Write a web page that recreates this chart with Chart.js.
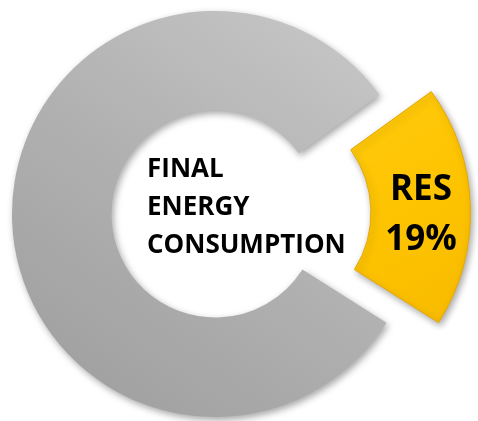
<!DOCTYPE html>
<html>
<head>
<meta charset="utf-8">
<script src="https://cdn.jsdelivr.net/npm/chart.js@4"></script>
<style>
  html, body { margin: 0; padding: 0; background: #ffffff; }
  #wrap { width: 478px; height: 421px; position: relative; }
</style>
</head>
<body>
<div id="wrap"><canvas id="c" width="478" height="421"></canvas></div>
<script>
// ---- data ----
const categories = ['RES', 'Other'];
const shares = [19, 81];
const centerLines = ['FINAL', 'ENERGY', 'CONSUMPTION'];
const sliceLabel = ['RES', '19%'];

// ---- styling ----
function sliceFill(ctx) {
  const chart = ctx.chart;
  const a = chart.chartArea;
  const isRes = ctx.dataIndex === 0;
  if (!a) return isRes ? '#fcc200' : '#b4b4b4';
  if (isRes) {
    const g = chart.ctx.createLinearGradient(a.right - 150, a.top + 60, a.right + 40, a.bottom - 60);
    g.addColorStop(0, '#ffcc10');
    g.addColorStop(0.5, '#fdc300');
    g.addColorStop(1, '#f5b600');
    return g;
  }
  const g = chart.ctx.createLinearGradient(a.left + a.width * 0.85, a.top, a.left + a.width * 0.15, a.bottom);
  g.addColorStop(0, '#c8c8c8');
  g.addColorStop(0.5, '#b1b1b1');
  g.addColorStop(1, '#9e9e9e');
  return g;
}

const shadowPlugin = {
  id: 'shadow',
  beforeDatasetsDraw(chart) {
    const c = chart.ctx;
    c.save();
    c.shadowColor = 'rgba(0,0,0,0.35)';
    c.shadowBlur = 7;
    c.shadowOffsetX = 2;
    c.shadowOffsetY = 3;
  },
  afterDatasetsDraw(chart) {
    chart.ctx.restore();
  }
};

const textPlugin = {
  id: 'texts',
  afterDraw(chart) {
    const c = chart.ctx;
    const arc = chart.getDatasetMeta(0).data[1];
    const cx = arc.x, cy = arc.y;
    c.save();
    c.fillStyle = '#000000';
    c.textBaseline = 'alphabetic';
    c.font = 'bold 26px "Open Sans"';
    c.textAlign = 'left';
    const base = [-37, 1, 39];
    centerLines.forEach((t, i) => c.fillText(t, cx - 68, cy + base[i]));
    c.font = 'bold 35px "Open Sans"';
    c.textAlign = 'center';
    const b2 = [-14, 36];
    sliceLabel.forEach((t, i) => c.fillText(t, cx + 206, cy + b2[i]));
    c.restore();
  }
};

new Chart(document.getElementById('c'), {
  type: 'doughnut',
  data: {
    labels: categories,
    datasets: [{
      data: shares,
      backgroundColor: sliceFill,
      borderColor: ['#e6a800', '#b0b0b0'],
      borderWidth: [1, 0],
      offset: [196, 0],
      hoverOffset: 0
    }]
  },
  options: {
    responsive: false,
    animation: false,
    events: [],
    rotation: 54,
    cutout: '51%',
    radius: 203,
    layout: { padding: { left: 0, right: 48, top: 7, bottom: 0 } },
    plugins: { legend: { display: false }, tooltip: { enabled: false } }
  },
  plugins: [shadowPlugin, textPlugin]
});
</script>
</body>
</html>
